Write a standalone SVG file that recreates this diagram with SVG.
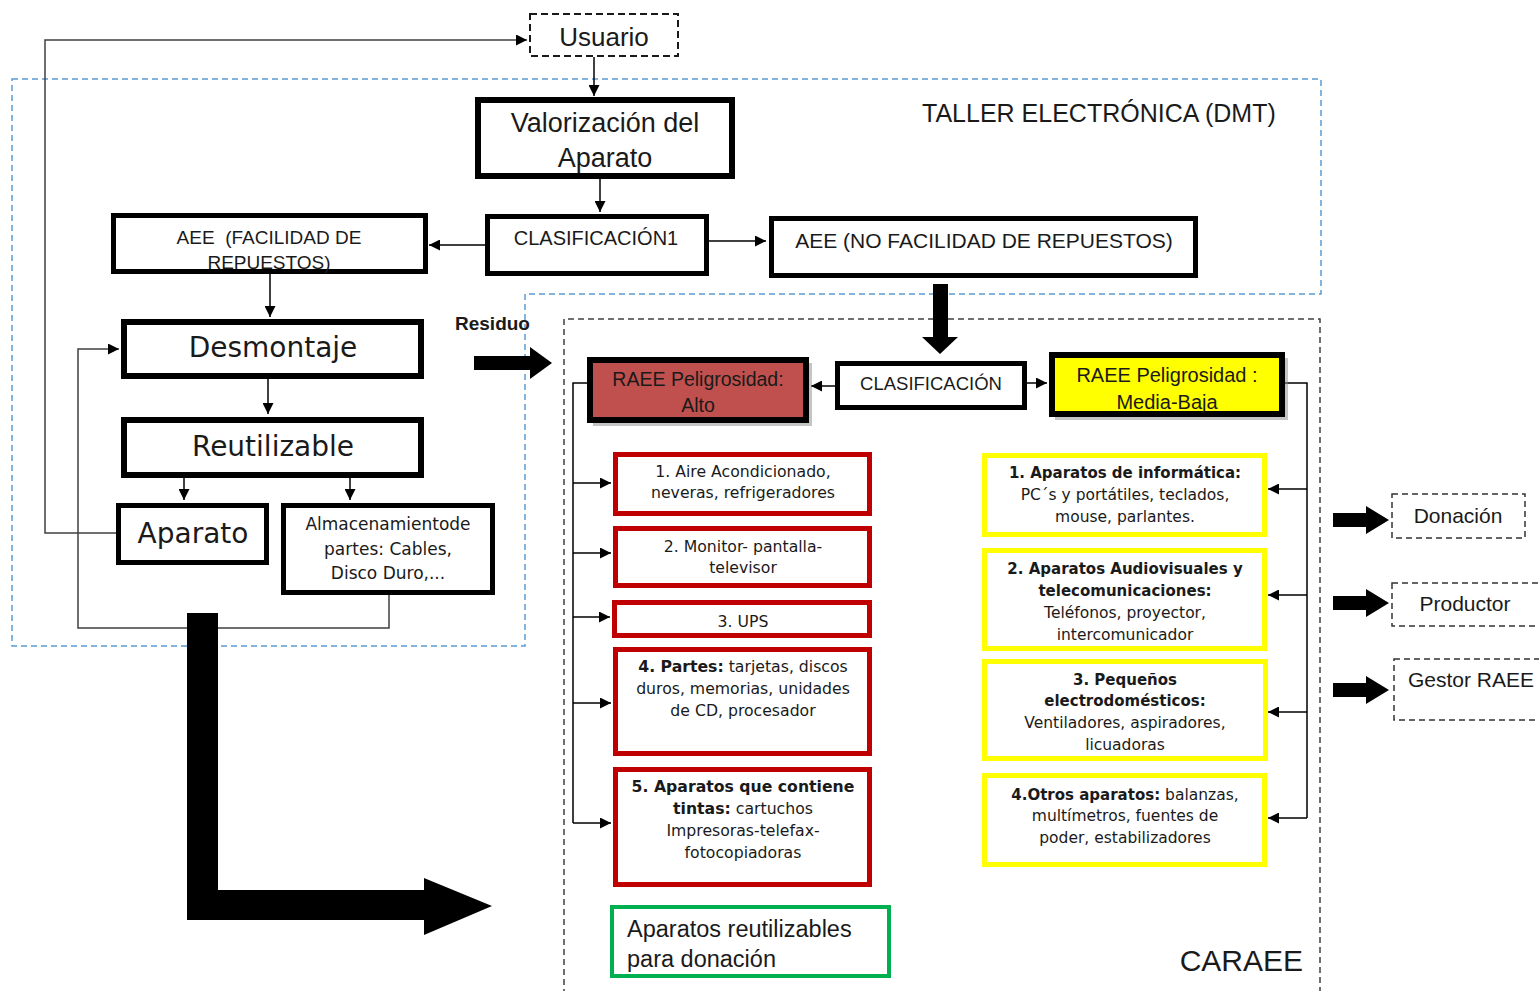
<svg xmlns="http://www.w3.org/2000/svg" width="1539" height="991" viewBox="0 0 1539 991">
<defs>
<style>
.bg{fill:#fff}
.cal{font-family:"Liberation Sans",Arial,sans-serif;fill:#1a1a1a}
.ver{font-family:"DejaVu Sans",Verdana,sans-serif;fill:#1a1a1a}
.rt{font-family:"DejaVu Sans",Verdana,sans-serif;fill:#1a1a1a;font-size:15.7px;text-anchor:middle}
.mid{text-anchor:middle}
.b{font-weight:bold}
.thick{fill:#fff;stroke:#000}
.red{fill:#fff;stroke:#c00000;stroke-width:5}
.yel{fill:#fff;stroke:#ffff00;stroke-width:5}
.dash{fill:#fff;stroke:#333;stroke-width:1.5;stroke-dasharray:6 4}
.conn{fill:none;stroke:#000;stroke-width:1.5}
.grey{fill:none;stroke:#404040;stroke-width:1.5}
.big{fill:#000}
.shadow{fill:#8c8c8c;opacity:0.5}
</style>
<marker id="ah" viewBox="0 0 10 10" refX="10" refY="5" markerWidth="11" markerHeight="11" markerUnits="userSpaceOnUse" orient="auto">
<path d="M0,0 L10,5 L0,10 z" fill="#000"/>
</marker>
</defs>
<rect class="bg" x="0" y="0" width="1539" height="991"/>

<!-- regions -->
<g id="taller-region">
<path d="M12,79 H1321 V294 H525 V646 H12 Z" fill="none" stroke="#5b9bd5" stroke-width="1.5" stroke-dasharray="6 4"/>
<text class="cal" x="922" y="122" font-size="25">TALLER ELECTRÓNICA (DMT)</text>
</g>
<g id="caraee-region">
<path d="M564,995 V319 H1320 V995" fill="none" stroke="#404040" stroke-width="1.5" stroke-dasharray="6 4"/>
<text class="cal" x="1303" y="971" font-size="30" text-anchor="end">CARAEE</text>
</g>

<!-- connectors -->
<g id="connectors">
<path class="conn" d="M594,57 V96" marker-end="url(#ah)"/>
<path class="conn" d="M600,179 V212" marker-end="url(#ah)"/>
<path class="conn" d="M485,245 H429" marker-end="url(#ah)"/>
<path class="conn" d="M709,241 H766" marker-end="url(#ah)"/>
<path class="conn" d="M270,274 V317" marker-end="url(#ah)"/>
<path class="conn" d="M268,379 V414" marker-end="url(#ah)"/>
<path class="conn" d="M184,478 V500" marker-end="url(#ah)"/>
<path class="conn" d="M350,478 V500" marker-end="url(#ah)"/>
<path class="grey" d="M116,533 H45 V40 H527" marker-end="url(#ah)"/>
<path class="grey" d="M389,595 V628 H78 V349 H119" marker-end="url(#ah)"/>
<path class="conn" d="M835,386 H811" marker-end="url(#ah)"/>
<path class="conn" d="M1027,383 H1047" marker-end="url(#ah)"/>
<path class="conn" d="M587,383 H573 V823"/>
<path class="conn" d="M573,483 H611" marker-end="url(#ah)"/>
<path class="conn" d="M573,553 H611" marker-end="url(#ah)"/>
<path class="conn" d="M573,617 H610" marker-end="url(#ah)"/>
<path class="conn" d="M573,703 H611" marker-end="url(#ah)"/>
<path class="conn" d="M573,823 H611" marker-end="url(#ah)"/>
<path class="conn" d="M1285,383 H1307 V818"/>
<path class="conn" d="M1307,489 H1268" marker-end="url(#ah)"/>
<path class="conn" d="M1307,595 H1268" marker-end="url(#ah)"/>
<path class="conn" d="M1307,712 H1268" marker-end="url(#ah)"/>
<path class="conn" d="M1307,818 H1268" marker-end="url(#ah)"/>
<polygon class="big" points="933,284 948,284 948,337 958,337 940,354 922,337 933,337"/>
<polygon class="big" points="474,356 530,356 530,347 552,363 530,379 530,370 474,370"/>
<polygon class="big" points="187,613 218,613 218,890 424,890 424,878 492,906 424,935 424,920 187,920"/>
<polygon class="big" points="1333,513 1366,513 1366,506 1389,520 1366,534 1366,527 1333,527"/>
<polygon class="big" points="1333,596 1366,596 1366,589 1389,603 1366,617 1366,610 1333,610"/>
<polygon class="big" points="1333,683 1366,683 1366,676 1389,690 1366,704 1366,697 1333,697"/>
<text class="cal b" x="455" y="330" font-size="19">Residuo</text>
</g>

<!-- nodes -->
<g id="usuario">
<rect x="530" y="14" width="148" height="42" fill="#fff" stroke="#1a1a1a" stroke-width="2" stroke-dasharray="7 4"/>
<text class="cal mid" x="604" y="46" font-size="26">Usuario</text>
</g>
<g id="valorizacion">
<rect class="thick" x="478" y="100" width="254" height="76" stroke-width="6"/>
<text class="cal mid" x="605" y="132" font-size="27">Valorización del</text>
<text class="cal mid" x="605" y="167" font-size="27">Aparato</text>
</g>
<g id="clasificacion1">
<rect class="thick" x="487.5" y="216.5" width="219" height="57" stroke-width="5"/>
<text class="cal mid" x="596" y="245" font-size="20">CLASIFICACIÓN1</text>
</g>
<g id="aee-facilidad">
<rect class="thick" x="113.5" y="215.5" width="312" height="56" stroke-width="5"/>
<text class="cal mid" x="269" y="244" font-size="19" xml:space="preserve">AEE  (FACILIDAD DE</text>
<text class="cal mid" x="269" y="269" font-size="19">REPUESTOS)</text>
</g>
<g id="aee-no-facilidad">
<rect class="thick" x="771.5" y="218.5" width="424" height="57" stroke-width="5"/>
<text class="cal mid" x="984" y="248" font-size="21">AEE (NO FACILIDAD DE REPUESTOS)</text>
</g>
<g id="desmontaje">
<rect class="thick" x="124" y="322" width="297" height="54" stroke-width="6"/>
<text class="ver mid" x="273" y="357" font-size="28">Desmontaje</text>
</g>
<g id="reutilizable">
<rect class="thick" x="124" y="420" width="297" height="55" stroke-width="6"/>
<text class="ver mid" x="273" y="456" font-size="28">Reutilizable</text>
</g>
<g id="aparato">
<rect class="thick" x="118.5" y="505.5" width="148" height="57" stroke-width="5"/>
<text class="ver mid" x="193" y="543" font-size="28">Aparato</text>
</g>
<g id="almacenamiento">
<rect class="thick" x="283.5" y="505.5" width="209" height="87" stroke-width="5"/>
<text class="ver mid" x="388" y="530" font-size="17">Almacenamientode</text>
<text class="ver mid" x="388" y="555" font-size="17">partes: Cables,</text>
<text class="ver mid" x="388" y="579" font-size="17">Disco Duro,...</text>
</g>
<g id="clasificacion">
<rect class="thick" x="837.5" y="363.5" width="187" height="44" stroke-width="5"/>
<text class="cal mid" x="931" y="390" font-size="18.5">CLASIFICACIÓN</text>
</g>
<g id="raee-alto">
<rect class="shadow" x="593" y="363" width="219" height="63"/>
<rect x="590" y="360" width="216" height="60" fill="#c0504d" stroke="#000" stroke-width="6"/>
<text class="cal mid" x="698" y="386" font-size="19.5">RAEE Peligrosidad:</text>
<text class="cal mid" x="698" y="412" font-size="19.5">Alto</text>
</g>
<g id="raee-media-baja">
<rect class="shadow" x="1055" y="358" width="233" height="62"/>
<rect x="1052" y="355" width="230" height="59" fill="#ffff00" stroke="#000" stroke-width="6"/>
<text class="cal mid" x="1167" y="382" font-size="20">RAEE Peligrosidad :</text>
<text class="cal mid" x="1167" y="409" font-size="20">Media-Baja</text>
</g>
<g id="alto-1">
<rect class="red" x="615.5" y="454.5" width="254" height="59"/>
<text class="rt" x="743" y="477">1. Aire Acondicionado,</text>
<text class="rt" x="743" y="498">neveras, refrigeradores</text>
</g>
<g id="alto-2">
<rect class="red" x="615.5" y="528.5" width="254" height="57"/>
<text class="rt" x="743" y="552">2. Monitor- pantalla-</text>
<text class="rt" x="743" y="573">televisor</text>
</g>
<g id="alto-3">
<rect class="red" x="614.5" y="602.5" width="255" height="33"/>
<text class="rt" x="743" y="627">3. UPS</text>
</g>
<g id="alto-4">
<rect class="red" x="615.5" y="649.5" width="254" height="104"/>
<text class="rt" x="743" y="672"><tspan class="b">4. Partes:</tspan> tarjetas, discos</text>
<text class="rt" x="743" y="694">duros, memorias, unidades</text>
<text class="rt" x="743" y="716">de CD, procesador</text>
</g>
<g id="alto-5">
<rect class="red" x="615.5" y="769.5" width="254" height="115"/>
<text class="rt b" x="743" y="792" font-size="15">5. Aparatos que contiene</text>
<text class="rt" x="743" y="814"><tspan class="b">tintas:</tspan> cartuchos</text>
<text class="rt" x="743" y="836">Impresoras-telefax-</text>
<text class="rt" x="743" y="858">fotocopiadoras</text>
</g>
<g id="media-1">
<rect class="yel" x="984.5" y="455.5" width="280" height="79"/>
<text class="ver mid b" x="1125" y="478" font-size="15">1. Aparatos de informática:</text>
<text class="ver mid" x="1125" y="500" font-size="15.5">PC´s y portátiles, teclados,</text>
<text class="ver mid" x="1125" y="522" font-size="15.5">mouse, parlantes.</text>
</g>
<g id="media-2">
<rect class="yel" x="984.5" y="550.5" width="280" height="98"/>
<text class="ver mid b" x="1125" y="574" font-size="15">2. Aparatos Audiovisuales y</text>
<text class="ver mid b" x="1125" y="596" font-size="15">telecomunicaciones:</text>
<text class="ver mid" x="1125" y="618" font-size="15.5">Teléfonos, proyector,</text>
<text class="ver mid" x="1125" y="640" font-size="15.5">intercomunicador</text>
</g>
<g id="media-3">
<rect class="yel" x="984.5" y="661.5" width="281" height="97"/>
<text class="ver mid b" x="1125" y="685" font-size="15">3. Pequeños</text>
<text class="ver mid b" x="1125" y="706" font-size="15">electrodomésticos:</text>
<text class="ver mid" x="1125" y="728" font-size="15.5">Ventiladores, aspiradores,</text>
<text class="ver mid" x="1125" y="750" font-size="15.5">licuadoras</text>
</g>
<g id="media-4">
<rect class="yel" x="984.5" y="775.5" width="280" height="89"/>
<text class="ver mid" x="1125" y="800" font-size="15.5"><tspan class="b" font-size="15">4.Otros aparatos:</tspan> balanzas,</text>
<text class="ver mid" x="1125" y="821" font-size="15.5">multímetros, fuentes de</text>
<text class="ver mid" x="1125" y="843" font-size="15.5">poder, estabilizadores</text>
</g>
<g id="reutilizables-donacion">
<rect x="612" y="907" width="277" height="69" fill="#fff" stroke="#00b050" stroke-width="4"/>
<text class="cal" x="627" y="937" font-size="23.5">Aparatos reutilizables</text>
<text class="cal" x="627" y="967" font-size="23.5">para donación</text>
</g>
<g id="donacion">
<rect class="dash" x="1392" y="494" width="133" height="44"/>
<text class="cal mid" x="1458" y="523" font-size="21">Donación</text>
</g>
<g id="productor">
<rect class="dash" x="1392" y="583" width="160" height="43"/>
<text class="cal mid" x="1465" y="611" font-size="21">Productor</text>
</g>
<g id="gestor-raee">
<rect class="dash" x="1394" y="659" width="160" height="61"/>
<text class="cal mid" x="1471" y="687" font-size="21">Gestor RAEE</text>
</g>
</svg>
